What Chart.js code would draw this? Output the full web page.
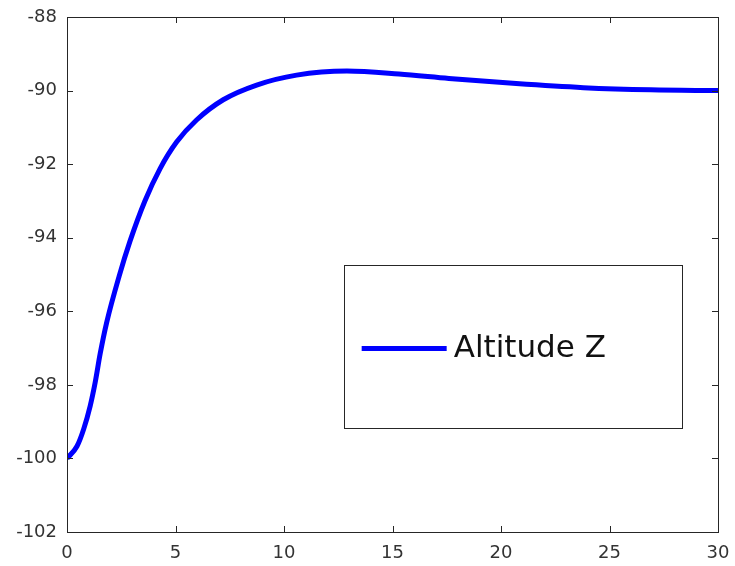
<!DOCTYPE html>
<html>
<head>
<meta charset="utf-8">
<script src="https://cdn.jsdelivr.net/npm/chart.js@4"></script>
<style>
    html, body { margin: 0; padding: 0; background: #ffffff; }
    #wrap { width: 735px; height: 566px; }
</style>
</head>
<body>
<div id="wrap"><canvas id="altitudeChart"></canvas></div>
<script>
// Values
const timeValues = [0, 0.46, 0.77, 1.07, 1.3, 1.53, 1.83, 2.4, 2.9, 3.59, 4.29, 5.05, 5.97, 7.2, 8.74, 10.58, 12.9, 15.3, 17.6, 20.7, 23.8, 26.9, 30];
const altitudeValues = [-100, -99.67, -99.2, -98.57, -97.93, -97.15, -96.3, -95.05, -94.1, -93.0, -92.12, -91.4, -90.8, -90.25, -89.85, -89.58, -89.47, -89.55, -89.67, -89.81, -89.92, -89.98, -90.0];
const seriesLabel = 'Altitude Z';
const xTicks = [0, 5, 10, 15, 20, 25, 30];
const yTicks = [-102, -100, -98, -96, -94, -92, -90, -88];

const axisColor = '#262626';
const lineColor = '#0000ff';

// Box round the plot with inward ticks on all four sides
const boxTicksPlugin = {
    id: 'boxTicks',
    afterDatasetsDraw(chart) {
        const { ctx, chartArea: a, scales } = chart;
        const len = 6;
        ctx.save();
        ctx.strokeStyle = axisColor;
        ctx.lineWidth = 1;
        ctx.beginPath();
        xTicks.forEach(v => {
            const px = Math.round(scales.x.getPixelForValue(v)) + 0.5;
            ctx.moveTo(px, a.bottom); ctx.lineTo(px, a.bottom - len);
            ctx.moveTo(px, a.top); ctx.lineTo(px, a.top + len);
        });
        yTicks.forEach(v => {
            const py = Math.round(scales.y.getPixelForValue(v)) + 0.5;
            ctx.moveTo(a.left, py); ctx.lineTo(a.left + len, py);
            ctx.moveTo(a.right, py); ctx.lineTo(a.right - len, py);
        });
        ctx.stroke();
        ctx.strokeRect(Math.round(a.left) + 0.5, Math.round(a.top) + 0.5,
            Math.round(a.right - a.left), Math.round(a.bottom - a.top));
        ctx.restore();
    }
};

// Legend box inside the plot, lower right
const insideLegendPlugin = {
    id: 'insideLegend',
    afterDraw(chart) {
        const { ctx, chartArea: a } = chart;
        const w = a.right - a.left, h = a.bottom - a.top;
        const bx = a.left + w * 0.425, by = a.top + h * 0.482;
        const bw = w * 0.519, bh = h * 0.317;
        ctx.save();
        ctx.strokeStyle = axisColor;
        ctx.lineWidth = 1;
        ctx.strokeRect(Math.round(bx) + 0.5, Math.round(by) + 0.5, Math.round(bw), Math.round(bh));
        const cy = by + bh * 0.51;
        ctx.strokeStyle = lineColor;
        ctx.lineWidth = 5;
        ctx.beginPath();
        ctx.moveTo(bx + 18, cy);
        ctx.lineTo(bx + 103, cy);
        ctx.stroke();
        ctx.fillStyle = '#111111';
        ctx.font = '31px "DejaVu Sans"';
        ctx.textBaseline = 'middle';
        ctx.fillText(seriesLabel, bx + 110, cy);
        ctx.restore();
    }
};

const points = timeValues.map((t, i) => ({ x: t, y: altitudeValues[i] }));

new Chart(document.getElementById('altitudeChart'), {
    type: 'line',
    data: {
        datasets: [{
            label: seriesLabel,
            data: points,
            borderColor: lineColor,
            borderWidth: 5,
            pointRadius: 0,
            cubicInterpolationMode: 'monotone',
            fill: false
        }]
    },
    options: {
        responsive: true,
        maintainAspectRatio: false,
        animation: false,
        layout: { padding: { left: 0, right: 17, top: 17, bottom: 0 } },
        plugins: {
            legend: { display: false },
            tooltip: { enabled: false }
        },
        scales: {
            x: {
                type: 'linear',
                min: 0,
                max: 30,
                afterFit: s => { s.height = 34; },
                afterBuildTicks: s => { s.ticks = xTicks.map(v => ({ value: v })); },
                grid: { display: false, tickLength: 8 },
                border: { display: false },
                ticks: {
                    color: '#333333',
                    font: { family: 'DejaVu Sans', size: 18 },
                    padding: 3,
                    maxRotation: 0
                }
            },
            y: {
                min: -102,
                max: -88,
                afterFit: s => { s.width = 67; },
                afterBuildTicks: s => { s.ticks = yTicks.map(v => ({ value: v })); },
                grid: { display: false, tickLength: 8 },
                border: { display: false },
                ticks: {
                    color: '#333333',
                    font: { family: 'DejaVu Sans', size: 18 },
                    padding: 2
                }
            }
        }
    },
    plugins: [boxTicksPlugin, insideLegendPlugin]
});
</script>
</body>
</html>
